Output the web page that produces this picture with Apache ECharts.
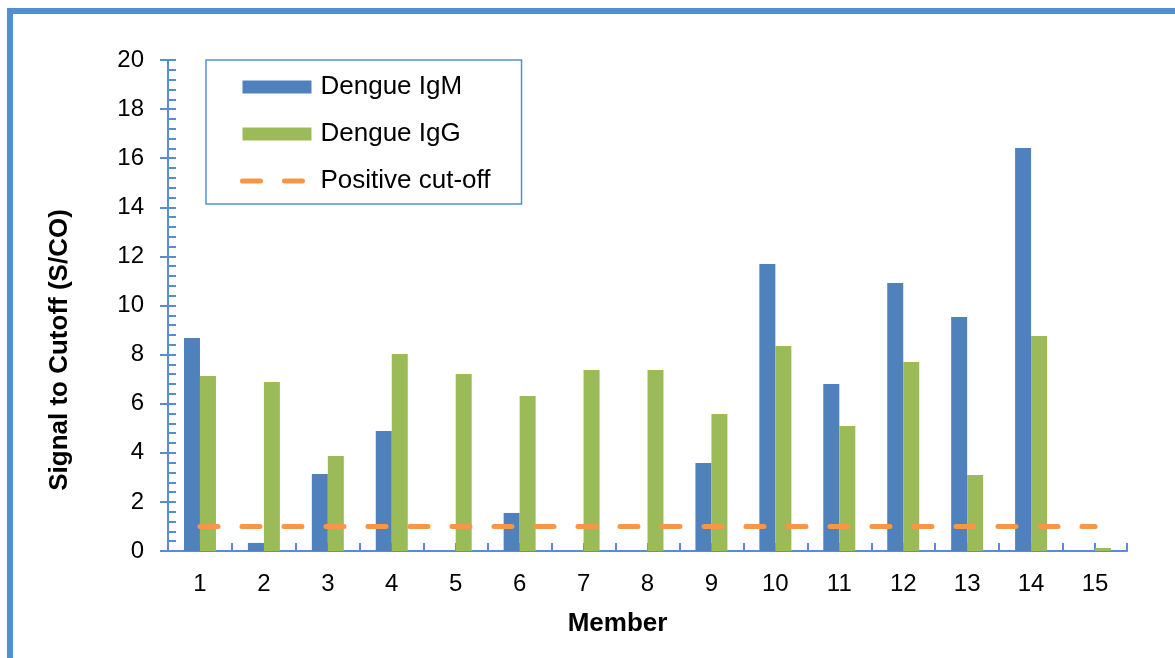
<!DOCTYPE html>
<html>
<head>
<meta charset="utf-8">
<script src="https://cdn.jsdelivr.net/npm/echarts@6/dist/echarts.min.js"></script>
<style>
html,body{margin:0;padding:0;background:#fff;}
#chart{width:1175px;height:658px;}
</style>
</head>
<body>
<div id="chart"></div>
<script>
var members = ['1','2','3','4','5','6','7','8','9','10','11','12','13','14','15'];
var igm = [8.68, 0.33, 3.14, 4.89, 0, 1.55, 0, 0, 3.58, 11.69, 6.80, 10.92, 9.53, 16.42, 0];
var igg = [7.13, 6.88, 3.87, 8.02, 7.21, 6.31, 7.37, 7.37, 5.58, 8.35, 5.09, 7.70, 3.10, 8.76, 0.12];
var cutoff = [1, 1, 1, 1, 1, 1, 1, 1, 1, 1, 1, 1, 1, 1, 1];
var yMin = 0, yMax = 20, yStep = 2;

var axisBlue = '#558ED5';
var orange = '#F79646';
var font = '"Liberation Sans", Arial, sans-serif';
var dashStyle = { color: orange, width: 5, type: [18, 24], cap: 'round' };
var chart = echarts.init(document.getElementById('chart'));
chart.setOption({
  animation: false,
  backgroundColor: '#ffffff',
  textStyle: { fontFamily: font, color: '#000' },
  graphic: [
    { type: 'rect', shape: { x: 7, y: 8, width: 6, height: 700 }, style: { fill: '#538DD5' }, silent: true },
    { type: 'rect', shape: { x: 7, y: 8, width: 1300, height: 6 }, style: { fill: '#538DD5' }, silent: true }
  ],
  grid: { left: 168, right: 48, top: 60, bottom: 107, containLabel: false },
  legend: {
    orient: 'vertical',
    left: 206, top: 60,
    borderColor: axisBlue, borderWidth: 1.5,
    padding: [14, 31, 10, 34],
    itemWidth: 69, itemHeight: 13, itemGap: 21,
    textStyle: { fontSize: 26, fontFamily: font, color: '#000', lineHeight: 26, padding: [0, 0, 0, 4] },
    data: [
      { name: 'Dengue IgM', icon: 'rect' },
      { name: 'Dengue IgG', icon: 'rect' },
      { name: 'Positive cut-off', lineStyle: dashStyle, itemStyle: { color: 'rgba(0,0,0,0)', opacity: 0, borderWidth: 0 } }
    ]
  },
  xAxis: [
    {
      type: 'category', data: members,
      name: 'Member', nameLocation: 'middle', nameGap: 60,
      nameTextStyle: { fontSize: 26, fontWeight: 'bold', fontFamily: font, color: '#000', padding: [0, 60, 0, 0] },
      axisLine: { lineStyle: { color: axisBlue, width: 2 } },
      axisTick: { show: true, inside: true, length: 8, lineStyle: { color: axisBlue, width: 2 } },
      axisLabel: { fontSize: 24, color: '#000', margin: 21, fontFamily: font },
      splitLine: { show: false }
    },
    {
      type: 'category', data: members, position: 'bottom',
      axisLine: { show: false },
      axisTick: { show: true, inside: true, alignWithLabel: true, length: 8, lineStyle: { color: axisBlue, width: 2 } },
      axisLabel: { show: false },
      splitLine: { show: false }
    }
  ],
  yAxis: [
    {
      type: 'value', min: yMin, max: yMax, interval: yStep,
      name: 'Signal to Cutoff (S/CO)', nameLocation: 'middle', nameGap: 95,
      nameTextStyle: { fontSize: 26, fontWeight: 'bold', fontFamily: font, color: '#000', padding: [0, 89, 0, 0] },
      axisLine: { show: true, lineStyle: { color: axisBlue, width: 2 } },
      axisTick: { show: true, inside: false, length: 8, lineStyle: { color: axisBlue, width: 2 } },
      axisLabel: { fontSize: 24, color: '#000', margin: 24, fontFamily: font },
      splitLine: { show: false }
    },
    {
      type: 'value', min: yMin, max: yMax, interval: yStep, position: 'left',
      axisLine: { show: false },
      axisTick: { show: true, inside: true, length: 8, lineStyle: { color: axisBlue, width: 2 } },
      minorTick: { show: true, splitNumber: 5, length: 8, lineStyle: { color: axisBlue, width: 2 } },
      axisLabel: { show: false },
      splitLine: { show: false },
      minorSplitLine: { show: false }
    }
  ],
  series: [
    {
      name: 'Dengue IgM', type: 'bar', data: igm, xAxisIndex: 0, yAxisIndex: 0,
      barWidth: 16, barGap: '0%',
      itemStyle: { color: '#4F81BD' }
    },
    {
      name: 'Dengue IgG', type: 'bar', data: igg, xAxisIndex: 0, yAxisIndex: 0,
      barWidth: 16, barGap: '0%',
      itemStyle: { color: '#9BBB59' }
    },
    {
      name: 'Positive cut-off', type: 'line', data: cutoff, xAxisIndex: 0, yAxisIndex: 0,
      symbol: 'none', z: 5,
      lineStyle: dashStyle,
      itemStyle: { color: orange }
    }
  ]
});
</script>
</body>
</html>
